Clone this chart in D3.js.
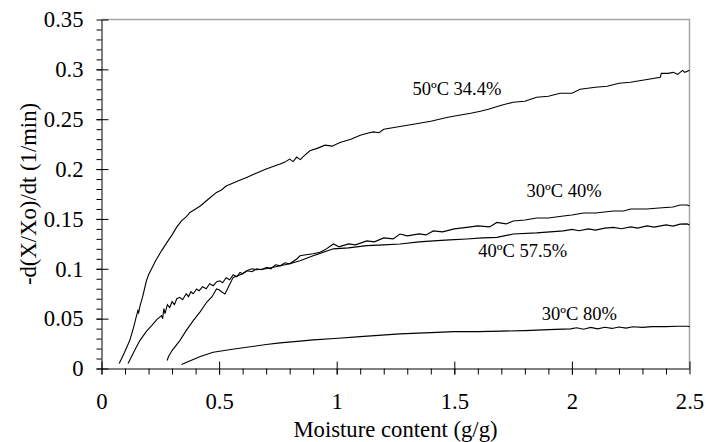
<!DOCTYPE html>
<html>
<head>
<meta charset="utf-8">
<script src="https://cdn.jsdelivr.net/npm/d3@7"></script>
<style>
  body { margin: 0; background: #fff; }
  svg text { font-family: "Liberation Serif", "Times New Roman", "DejaVu Serif", serif !important; fill: #000; }
</style>
</head>
<body>
<div id="chart"></div>
<script>
// tick values
var xTicks = [0, 0.5, 1, 1.5, 2, 2.5];
var yTicks = [0, 0.05, 0.1, 0.15, 0.2, 0.25, 0.3, 0.35];

// curves: [moisture, rate]
var curve50_344 = [[0.075,0.005],[0.09,0.012],[0.105,0.02],[0.12,0.028],[0.135,0.04],[0.149,0.053],[0.155,0.058],[0.158,0.056],[0.163,0.062],[0.175,0.072],[0.191,0.088],[0.2,0.094],[0.213,0.1],[0.23,0.108],[0.255,0.118],[0.28,0.127],[0.3,0.134],[0.319,0.1415],[0.34,0.148],[0.36,0.152],[0.376,0.1565],[0.4,0.16],[0.42,0.163],[0.44,0.167],[0.46,0.171],[0.489,0.1766],[0.51,0.179],[0.53,0.183],[0.55,0.185],[0.58,0.188],[0.617,0.1916],[0.65,0.195],[0.7,0.2],[0.759,0.205],[0.78,0.207],[0.8,0.21],[0.815,0.2075],[0.83,0.212],[0.845,0.2095],[0.86,0.213],[0.886,0.2183],[0.92,0.221],[0.95,0.224],[0.98,0.223],[1.014,0.2266],[1.06,0.23],[1.1,0.234],[1.13,0.236],[1.156,0.2373],[1.18,0.2365],[1.2,0.24],[1.25,0.242],[1.326,0.245],[1.4,0.248],[1.468,0.2517],[1.52,0.254],[1.57,0.256],[1.611,0.258],[1.645,0.26],[1.7,0.264],[1.75,0.267],[1.8,0.268],[1.85,0.272],[1.9,0.273],[1.95,0.276],[2.0,0.276],[2.035,0.28],[2.1,0.282],[2.15,0.283],[2.2,0.286],[2.248,0.287],[2.3,0.289],[2.376,0.292],[2.38,0.296],[2.41,0.296],[2.43,0.297],[2.45,0.295],[2.47,0.299],[2.48,0.297],[2.5,0.299]];

var curve30_40 = [[0.113,0.005],[0.13,0.013],[0.145,0.02],[0.163,0.028],[0.19,0.037],[0.213,0.043],[0.235,0.049],[0.255,0.053],[0.26,0.05],[0.265,0.06],[0.27,0.055],[0.28,0.064],[0.29,0.061],[0.3,0.067],[0.31,0.064],[0.32,0.07],[0.333,0.0714],[0.345,0.069],[0.36,0.075],[0.37,0.072],[0.38,0.077],[0.39,0.075],[0.404,0.0798],[0.415,0.078],[0.43,0.082],[0.445,0.08],[0.46,0.085],[0.475,0.083],[0.49,0.087],[0.503,0.088],[0.515,0.086],[0.53,0.091],[0.545,0.089],[0.56,0.094],[0.575,0.092],[0.589,0.0964],[0.6,0.095],[0.62,0.098],[0.64,0.097],[0.66,0.1],[0.68,0.099],[0.702,0.1014],[0.72,0.1],[0.74,0.104],[0.76,0.103],[0.78,0.106],[0.8,0.105],[0.83,0.1098],[0.844,0.113],[0.87,0.114],[0.9,0.115],[0.929,0.1165],[0.95,0.119],[0.986,0.1249],[1.01,0.122],[1.05,0.125],[1.08,0.124],[1.128,0.128],[1.16,0.127],[1.2,0.131],[1.24,0.13],[1.269,0.1349],[1.3,0.133],[1.35,0.135],[1.38,0.134],[1.411,0.138],[1.45,0.137],[1.5,0.14],[1.553,0.1415],[1.6,0.143],[1.65,0.142],[1.681,0.1465],[1.72,0.145],[1.751,0.148],[1.8,0.149],[1.85,0.151],[1.9,0.151],[1.964,0.153],[2.0,0.154],[2.05,0.156],[2.1,0.156],[2.177,0.158],[2.22,0.158],[2.25,0.16],[2.319,0.16],[2.37,0.161],[2.43,0.162],[2.46,0.164],[2.49,0.164],[2.5,0.163]];

var curve40_575 = [[0.279,0.008],[0.285,0.012],[0.3,0.018],[0.333,0.028],[0.36,0.038],[0.39,0.048],[0.42,0.057],[0.447,0.0664],[0.47,0.072],[0.489,0.0798],[0.5,0.079],[0.51,0.077],[0.525,0.0748],[0.54,0.082],[0.56,0.0914],[0.58,0.093],[0.6,0.095],[0.617,0.0981],[0.64,0.1],[0.66,0.099],[0.7,0.1],[0.74,0.102],[0.8,0.105],[0.844,0.108],[0.9,0.113],[0.986,0.12],[1.05,0.121],[1.128,0.1232],[1.2,0.124],[1.269,0.1249],[1.35,0.127],[1.411,0.128],[1.48,0.129],[1.553,0.1299],[1.62,0.131],[1.681,0.1315],[1.751,0.1349],[1.85,0.136],[1.964,0.138],[2.0,0.1395],[2.03,0.1382],[2.07,0.14],[2.1,0.1388],[2.14,0.1408],[2.177,0.1415],[2.21,0.1402],[2.25,0.142],[2.28,0.1408],[2.319,0.143],[2.35,0.1418],[2.4,0.144],[2.43,0.1428],[2.46,0.1448],[2.49,0.145],[2.5,0.144]];

var curve30_80 = [[0.34,0.004],[0.38,0.008],[0.42,0.012],[0.475,0.0163],[0.55,0.019],[0.617,0.0213],[0.7,0.024],[0.759,0.0257],[0.844,0.0275],[0.9,0.0287],[1.007,0.0304],[1.1,0.032],[1.269,0.0347],[1.4,0.036],[1.5,0.037],[1.6,0.037],[1.7,0.0375],[1.8,0.038],[1.9,0.039],[1.994,0.0397],[2.02,0.0408],[2.05,0.0394],[2.08,0.0412],[2.11,0.0398],[2.14,0.0414],[2.17,0.0402],[2.2,0.0416],[2.23,0.0405],[2.26,0.0418],[2.3,0.0412],[2.34,0.042],[2.4,0.042],[2.45,0.0424],[2.49,0.0424],[2.5,0.042]];

var series = [curve50_344, curve30_40, curve40_575, curve30_80];

// curve labels with the data point they sit at
var labelText = ["50ºC 34.4%", "30ºC 40%", "40ºC 57.5%", "30ºC 80%"];
var labelAt = [[1.322, 0.2745], [1.807, 0.1715], [1.602, 0.1115], [1.872, 0.049]];

var margin = {top: 19.5, right: 16.5, bottom: 73.5, left: 101.5},
    width = 706 - margin.left - margin.right,
    height = 442 - margin.top - margin.bottom;

var svg = d3.select("#chart").append("svg")
    .attr("width", 706)
    .attr("height", 442)
    .append("g")
    .attr("transform", "translate(" + margin.left + "," + margin.top + ")");

var x = d3.scaleLinear().domain([0, 2.5]).range([0, width]);
var y = d3.scaleLinear().domain([0, 0.35]).range([height, 0]);

// grey frame on top and right
svg.append("path")
    .attr("d", "M0,0H" + width + "V" + height)
    .attr("fill", "none")
    .attr("stroke", "#a6a6a6")
    .attr("stroke-width", 1.5);

// minor ticks
var xMinor = d3.range(0, 25).map(function(i) { return i / 10; });
var yMinor = d3.range(0, 35).map(function(i) { return i / 100; });

svg.append("g")
    .attr("transform", "translate(0," + height + ")")
    .call(d3.axisBottom(x).tickValues(xMinor).tickSize(6).tickFormat(""))
    .call(function(g) { g.select(".domain").remove(); });

svg.append("g")
    .call(d3.axisLeft(y).tickValues(yMinor).tickSize(5).tickFormat(""))
    .call(function(g) { g.select(".domain").remove(); });

// major axes
var xAxis = svg.append("g")
    .attr("transform", "translate(0," + height + ")")
    .call(d3.axisBottom(x).tickValues(xTicks).tickSize(6).tickSizeOuter(0).tickPadding(18).tickFormat(function(d) { return d; }));
xAxis.selectAll(".tick").append("line").attr("y2", -7).attr("stroke", "#000");

var yAxis = svg.append("g")
    .call(d3.axisLeft(y).tickValues(yTicks).tickSize(5).tickSizeOuter(0).tickPadding(13).tickFormat(function(d) { return d; }));
yAxis.selectAll(".tick").append("line").attr("x2", 7).attr("stroke", "#000");

svg.selectAll("g").attr("font-family", null);
svg.selectAll(".tick text").style("font-size", "22.7px");
svg.selectAll(".domain, .tick line").attr("stroke", "#000");

// curves
var line = d3.line()
    .x(function(d) { return x(d[0]); })
    .y(function(d) { return y(d[1]); });

svg.selectAll(".curve")
    .data(series)
    .enter().append("path")
    .attr("class", "curve")
    .attr("d", line)
    .attr("fill", "none")
    .attr("stroke", "#000")
    .attr("stroke-width", 1.1);

// curve labels
svg.selectAll(".lbl")
    .data(labelText)
    .enter().append("text")
    .attr("class", "lbl")
    .attr("x", function(d, i) { return x(labelAt[i][0]); })
    .attr("y", function(d, i) { return y(labelAt[i][1]); })
    .style("font-size", "18.5px")
    .text(function(d) { return d; });

// axis titles
svg.append("text")
    .attr("x", width / 2)
    .attr("y", height + 68)
    .attr("text-anchor", "middle")
    .style("font-size", "22.7px")
    .text("Moisture content (g/g)");

svg.append("text")
    .attr("transform", "translate(" + (36 - margin.left) + "," + (height / 2) + ") rotate(-90)")
    .attr("text-anchor", "middle")
    .style("font-size", "22.7px")
    .text("-d(X/Xo)/dt (1/min)");
</script>
</body>
</html>
